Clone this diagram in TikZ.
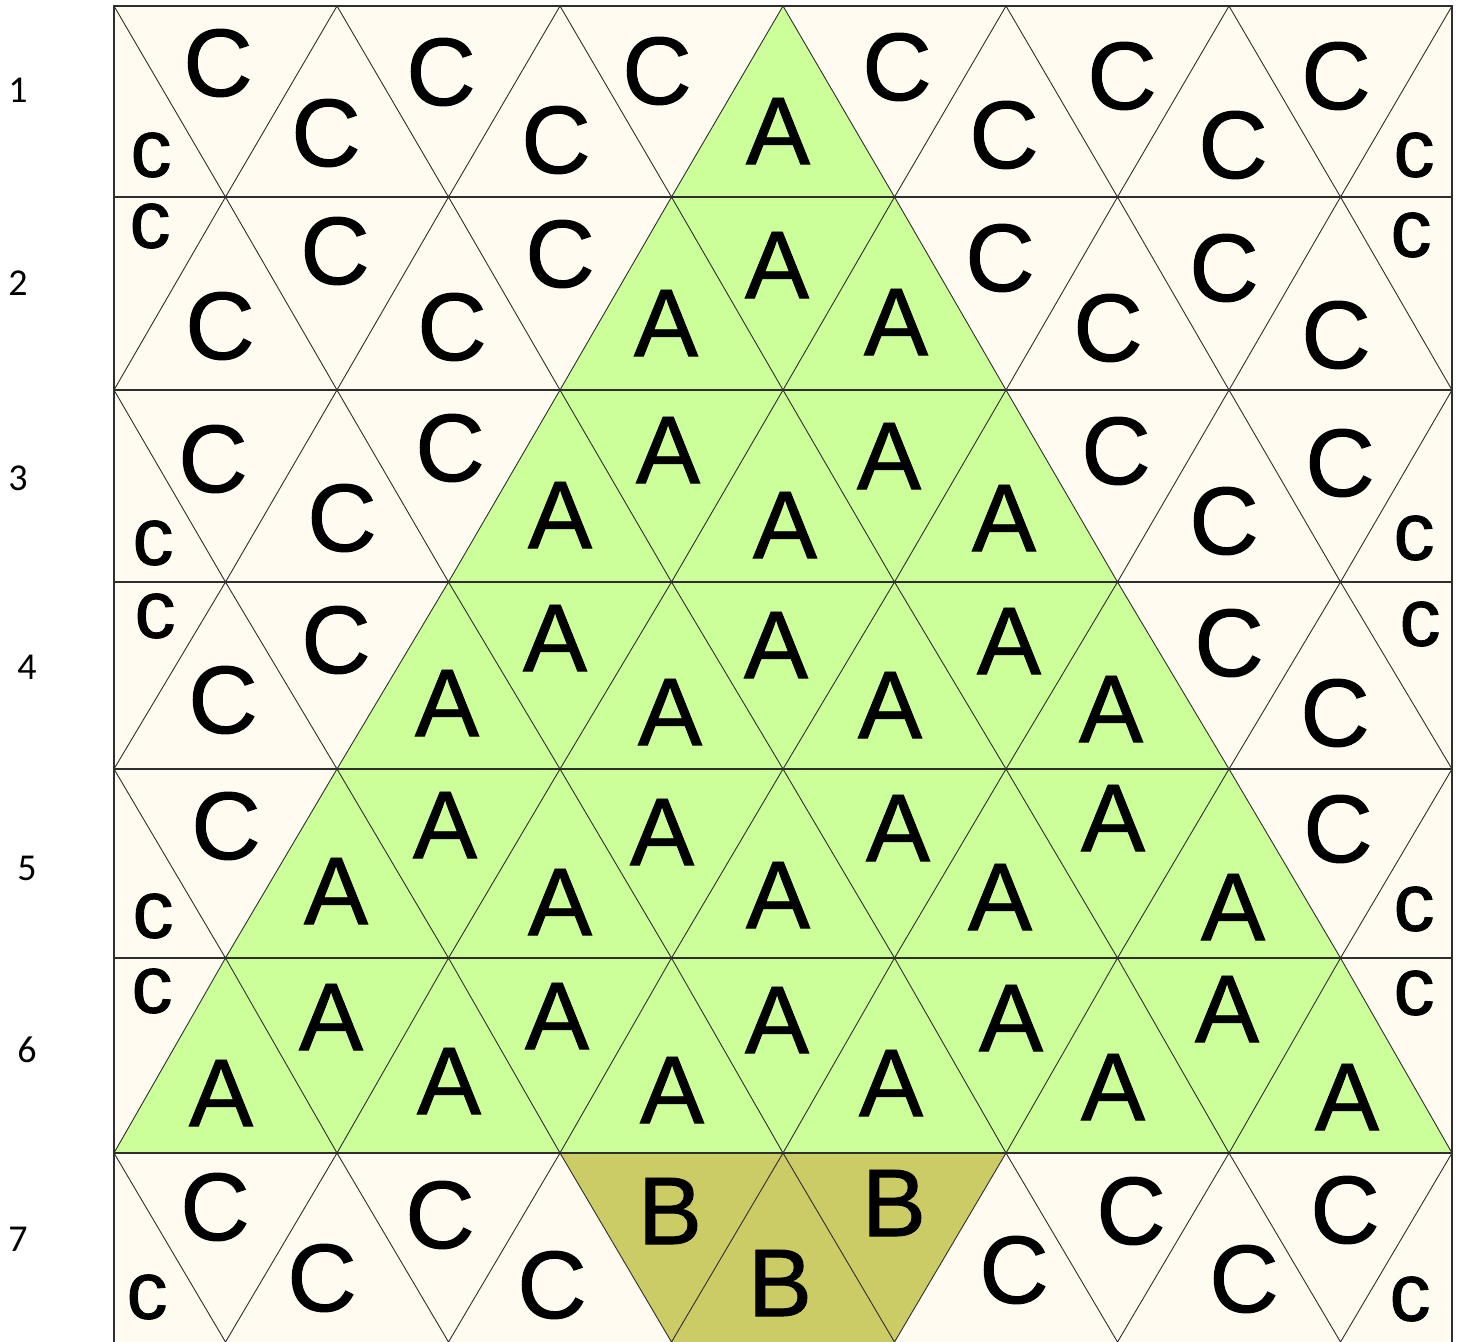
\documentclass[tikz,border=0pt]{standalone}
\usepackage{fontspec}
\setmainfont{Liberation Sans}
\newfontfamily\letterfont[FakeBold=1.0]{Liberation Sans}
\newfontfamily\rowfont{Carlito}
\definecolor{cream}{HTML}{FFFBF0}
\definecolor{leaf}{HTML}{CCFF99}
\definecolor{trunk}{HTML}{CCCC66}
\definecolor{gridc}{HTML}{2E2E2E}
\begin{document}
\begin{tikzpicture}[x=1pt,y=-1pt,
  big/.style={inner sep=0pt, font=\letterfont\fontsize{96}{96}\selectfont},
  small/.style={inner sep=0pt, font=\letterfont\fontsize{82}{82}\selectfont},
  rowlab/.style={inner sep=0pt, font=\rowfont\fontsize{38}{38}\selectfont},
  hline/.style={draw=gridc, line width=1.3pt},
  dline/.style={draw=gridc, line width=0.9pt}]
\useasboundingbox (0,0) rectangle (1460,1342);
\fill[cream] (114,6) rectangle (1452,1342);
% tree
\fill[leaf] (783,6) -- (671.5,197) -- (560,390) -- (448.5,582) -- (337,769) -- (225.5,958) -- (114,1153)
  -- (1452,1153) -- (1340.5,958) -- (1229,769) -- (1117.5,582) -- (1006,390) -- (894.5,197) -- cycle;
% trunk
\fill[trunk] (560,1153) -- (1006,1153) -- (894.5,1342) -- (671.5,1342) -- cycle;
% diagonals, odd rows
\foreach \yt/\yb in {6/197,390/582,769/958,1153/1342}{
  \foreach \k in {0,...,5}{
    \draw[dline] ({114+223*\k},\yt) -- ({225.5+223*\k},\yb) -- ({337+223*\k},\yt);
  }
}
% diagonals, even rows
\foreach \yt/\yb in {197/390,582/769,958/1153}{
  \foreach \k in {0,...,5}{
    \draw[dline] ({114+223*\k},\yb) -- ({225.5+223*\k},\yt) -- ({337+223*\k},\yb);
  }
}
% horizontals
\foreach \y in {197,390,582,769,958,1153} \draw[hline] (114,\y) -- (1452,\y);
% border
\draw[hline] (114,1342) -- (114,6) -- (1452,6) -- (1452,1342);
% big labels
\foreach \t/\x/\y [count=\i] in {
  C/218/63, C/326/133, C/441/72, C/556/140, C/657/71, A/778/131, C/897/67, C/1004/135, C/1122/76, C/1233/145, C/1336/76,
  C/220/326, C/335/251, C/452/327, C/560/254, A/666/323, A/777/265, A/896/322, C/1000/258, C/1108/328, C/1224/268, C/1336/335,
  C/213/459, C/342/518, C/450/448, A/560/515, A/668/450, A/785/525, A/889/456, A/1004/518, C/1116/451, C/1224/521, C/1340/463,
  C/223/700, C/336/640, A/447/703, A/555/638, A/670/712, A/776/645, A/890/705, A/1009/641, A/1111/709, C/1229/643, C/1335/713,
  C/226/826, A/336/891, A/445/825, A/560/902, A/662/832, A/778/895, A/898/828, A/1000/897, A/1113/818, A/1233/907, C/1338/829,
  A/221/1093, A/331/1017, A/449/1081, A/557/1016, A/672/1090, A/777/1020, A/891/1083, A/1011/1018, A/1113/1087, A/1227/1009, A/1347/1097,
  C/215/1207, C/322/1278, C/440/1215, C/552/1285, B/670/1211, B/780/1283, B/894/1203, C/1014/1270, C/1131/1211, C/1244/1279, C/1345/1210}
  \node[big] (b\i) at (\x,\y) {\t};
% small labels
\foreach \x/\y [count=\i] in {151/155, 1414/155, 150/226, 1411/235, 153/543, 1414/538, 155/616, 1420/624,
  153/916, 1414/909, 152/991, 1414/993, 147/1297, 1410/1299}
  \node[small] (s\i) at (\x,\y) {c};
% row numbers
\foreach \t/\x/\y in {1/18/90, 2/18/283, 3/18/478, 4/27/667, 5/27/868, 6/27/1050, 7/18/1239}
  \node[rowlab] (row\t) at (\x,\y) {\t};
\end{tikzpicture}
\end{document}
